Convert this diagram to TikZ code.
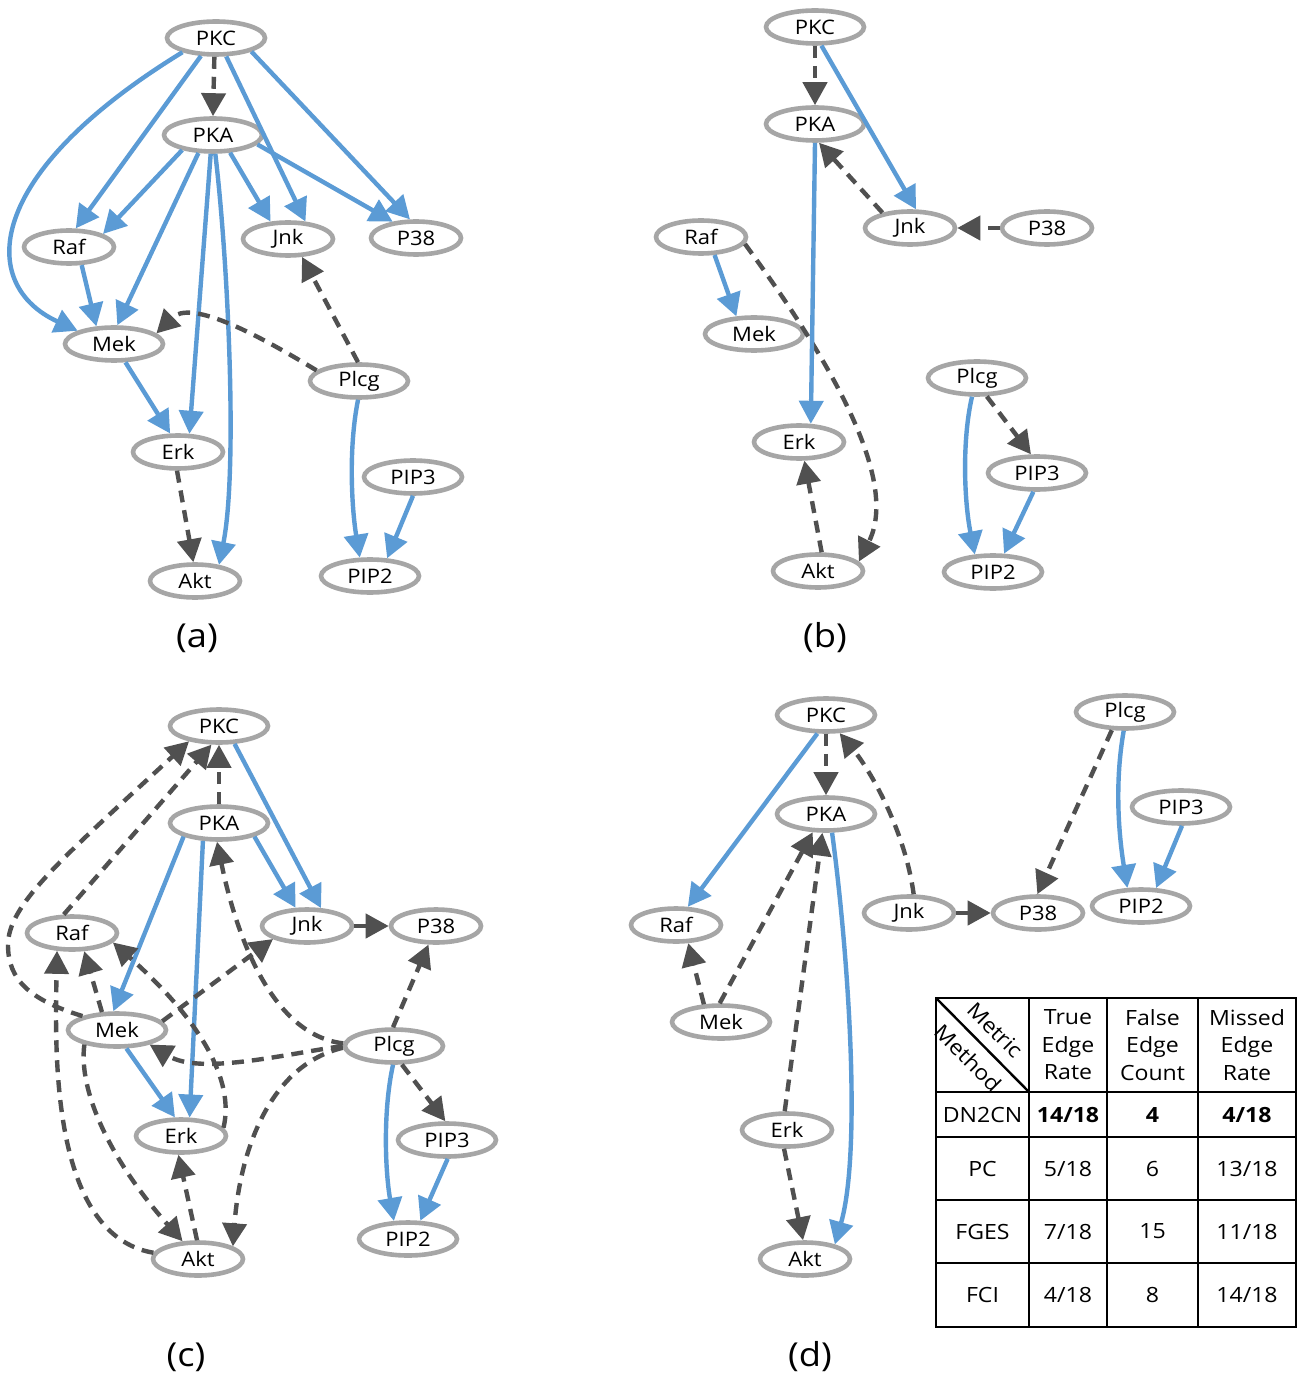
\documentclass[tikz,border=0pt]{standalone}
\usepackage{fontspec}
\setmainfont{Open Sans}[FakeStretch=1.1]
\usetikzlibrary{shapes.geometric,arrows.meta}
\definecolor{eblue}{HTML}{5B9BD5}
\definecolor{edark}{HTML}{505050}
\definecolor{ndgray}{HTML}{A6A6A6}
\tikzset{
  nd/.style={ellipse, draw=ndgray, line width=2.3pt, fill=white, inner sep=0pt,
    minimum width=49pt, minimum height=16.5pt, font=\fontsize{10}{12}\selectfont},
  ndn/.style={nd, minimum width=45pt},
  tip/.style={-{Triangle[length=11.5pt,width=12pt]}},
  blu/.style={draw=eblue, line width=2.2pt, tip},
  dsh/.style={draw=edark, line width=2.2pt, dash pattern=on 6pt off 4pt, tip},
  plab/.style={font=\fontsize{16.5}{19}\selectfont},
  cell/.style={font=\fontsize{10.5}{13.75}\selectfont, align=center, inner sep=0pt},
  grid/.style={draw=black, line width=1.2pt}
}
\begin{document}
\begin{tikzpicture}[x=0.5pt, y=-0.5pt]
\useasboundingbox (0,0) rectangle (1300,1379);

% ---------------- (a) ----------------
\node[nd]  (aPKC)  at (216,38)  {PKC};
\node[nd]  (aPKA)  at (213,135) {PKA};
\node[ndn] (aRaf)  at (69,247)  {Raf};
\node[ndn] (aJnk)  at (288,239) {Jnk};
\node[ndn] (aP38)  at (416,238) {P38};
\node[nd]  (aMek)  at (114,344) {Mek};
\node[nd]  (aPlcg) at (359,381) {Plcg};
\node[ndn] (aErk)  at (178,452) {Erk};
\node[nd]  (aPIP3) at (413,477) {PIP3};
\node[ndn] (aAkt)  at (195,581) {Akt};
\node[nd]  (aPIP2) at (370,576) {PIP2};
\node[plab] (laba) at (197,638) {(a)};

\draw[dsh] (aPKC.-95) -- (aPKA.90);
\draw[blu] (aPKC.-130) -- (aRaf.70);
\draw[blu] (aPKC.-157) .. controls (-18,175) and (-22,285) .. (aMek.160);
\draw[blu] (aPKC.-61) -- (aJnk.45);
\draw[blu] (aPKC.-21) -- (aP38.108);
\draw[blu] (aPKA.-154) -- (aRaf.21);
\draw[blu] (aPKA.-129) -- (aMek.80);
\draw[blu] (aPKA.-97) -- (aErk.58);
\draw[blu] (aPKA.-83) .. controls (228,260) and (238,470) .. (aAkt.34);
\draw[blu] (aPKA.-46) -- (aJnk.135);
\draw[blu] (aPKA.-12) -- (aP38.145);
\draw[blu] (aRaf.-55) -- (aMek.135);
\draw[blu] (aMek.-58) -- (aErk.113);
\draw[dsh] (aPlcg.166) .. controls (250,330) and (190,300) .. (aMek.14);
\draw[dsh] (aPlcg.93) -- (aJnk.-52);
\draw[dsh] (aErk.-93) -- (aAkt.95);
\draw[blu] (aPlcg.-93) .. controls (348,450) and (352,510) .. (aPIP2.119);
\draw[blu] (aPIP3.-90) -- (aPIP2.46);

% ---------------- (b) ----------------
\node[nd]  (bPKC)  at (815,27)  {PKC};
\node[nd]  (bPKA)  at (815,124) {PKA};
\node[ndn] (bJnk)  at (910,228) {Jnk};
\node[ndn] (bP38)  at (1047,228) {P38};
\node[ndn] (bRaf)  at (701,237) {Raf};
\node[nd]  (bMek)  at (754,334) {Mek};
\node[ndn] (bErk)  at (799,442) {Erk};
\node[nd]  (bPlcg) at (977,378) {Plcg};
\node[nd]  (bPIP3) at (1037,473) {PIP3};
\node[ndn] (bAkt)  at (818,571) {Akt};
\node[nd]  (bPIP2) at (993,572) {PIP2};
\node[plab] (labb) at (825,638) {(b)};

\draw[dsh] (bPKC.-90) -- (bPKA.90);
\draw[blu] (bPKC.-71) -- (bJnk.72);
\draw[dsh] (bJnk.151) -- (bPKA.-78);
\draw[dsh] (bP38.180) -- (bJnk.0);
\draw[blu] (bRaf.-53) -- (bMek.135);
\draw[dsh] (bRaf.-9) .. controls (830,360) and (900,480) .. (bAkt.13);
\draw[blu] (bPKA.-90) -- (bErk.57);
\draw[dsh] (bAkt.79) -- (bErk.-74);
\draw[blu] (bPlcg.-105) .. controls (962,440) and (964,500) .. (bPIP2.136);
\draw[dsh] (bPlcg.-62) -- (bPIP3.108);
\draw[blu] (bPIP3.-101) -- (bPIP2.59);

% ---------------- (c) ----------------
\node[nd]  (cPKC)  at (219,726)  {PKC};
\node[nd]  (cPKA)  at (219,823)  {PKA};
\node[ndn] (cRaf)  at (72,933)   {Raf};
\node[ndn] (cJnk)  at (307,926)  {Jnk};
\node[ndn] (cP38)  at (436,926)  {P38};
\node[nd]  (cMek)  at (117,1030) {Mek};
\node[nd]  (cPlcg) at (394,1046) {Plcg};
\node[ndn] (cErk)  at (181,1136) {Erk};
\node[nd]  (cPIP3) at (447,1140) {PIP3};
\node[ndn] (cAkt)  at (198,1259) {Akt};
\node[nd]  (cPIP2) at (408,1239) {PIP2};
\node[plab] (labc) at (186,1357) {(c)};

\draw[dsh] (cPKA.90) -- (cPKC.-90);
\draw[blu] (cPKC.-49) -- (cJnk.52);
\draw[blu] (cPKA.-21) -- (cJnk.122);
\draw[blu] (cPKA.-159) -- (cMek.101);
\draw[blu] (cPKA.-132) -- (cErk.65);
\draw[dsh] (cJnk.0) -- (cP38.180);
\draw[dsh] (cRaf.114) -- (cPKC.-112);
\draw[dsh] (cMek.158) .. controls (30,1000) and (8,980) .. (8,945)
                      .. controls (8,905) and (60,860) .. (cPKC.-153);
\draw[dsh] (cMek.130) -- (cRaf.-56);
\draw[dsh] (cAkt.172) .. controls (50,1235) and (55,1050) .. (cRaf.-130);
\draw[dsh] (cErk.11) .. controls (235,1080) and (200,1020) .. (cRaf.-13);
\draw[dsh] (cMek.11) -- (cJnk.-159);
\draw[dsh] (cPlcg.177) .. controls (270,1035) and (235,930) .. (cPKA.-96);
\draw[dsh] (cPlcg.180) .. controls (280,1055) and (200,1075) .. (cMek.-24);
\draw[dsh] (cPlcg.-178) .. controls (270,1065) and (240,1150) .. (cAkt.20);
\draw[dsh] (cPlcg.93) -- (cP38.-112);
\draw[dsh] (cPlcg.-67) -- (cPIP3.95);
\draw[blu] (cPlcg.-93) .. controls (383,1110) and (385,1170) .. (cPIP2.128);
\draw[blu] (cPIP3.-88) -- (cPIP2.56);
\draw[blu] (cMek.-63) -- (cErk.108);
\draw[dsh] (cMek.-156) .. controls (78,1090) and (110,1160) .. (cAkt.131);
\draw[dsh] (cAkt.93) -- (cErk.-98);

% ---------------- (d) ----------------
\node[nd]  (dPKC)  at (826,715)  {PKC};
\node[nd]  (dPKA)  at (826,814)  {PKA};
\node[nd]  (dPlcg) at (1125,712) {Plcg};
\node[nd]  (dPIP3) at (1181,807) {PIP3};
\node[ndn] (dRaf)  at (676,925)  {Raf};
\node[ndn] (dJnk)  at (909,913)  {Jnk};
\node[ndn] (dP38)  at (1038,913) {P38};
\node[nd]  (dPIP2) at (1141,906) {PIP2};
\node[nd]  (dMek)  at (721,1022) {Mek};
\node[ndn] (dErk)  at (787,1130) {Erk};
\node[ndn] (dAkt)  at (805,1259) {Akt};
\node[plab] (labd) at (810,1357) {(d)};

\draw[dsh] (dPKC.-90) -- (dPKA.90);
\draw[blu] (dPKC.-115) -- (dRaf.57);
\draw[dsh] (dJnk.76) .. controls (905,830) and (870,770) .. (dPKC.-53);
\draw[blu] (dPKA.-72) .. controls (848,950) and (862,1150) .. (dAkt.26);
\draw[dsh] (dMek.134) -- (dRaf.-56);
\draw[dsh] (dMek.94) -- (dPKA.-126);
\draw[dsh] (dErk.97) -- (dPKA.-101);
\draw[dsh] (dErk.-99) -- (dAkt.96);
\draw[dsh] (dJnk.0) -- (dP38.180);
\draw[dsh] (dPlcg.-126) -- (dP38.92);
\draw[blu] (dPlcg.-94) .. controls (1115,780) and (1118,830) .. (dPIP2.127);
\draw[blu] (dPIP3.-87) -- (dPIP2.50);

% ---------------- results table ----------------
\draw[grid] (936,998) rectangle (1296,1327);
\foreach \xx in {1029,1107,1198} \draw[grid] (\xx,998) -- (\xx,1327);
\foreach \yy in {1092,1137,1200,1263} \draw[grid] (936,\yy) -- (1296,\yy);
\draw[grid] (936,998) -- (1029,1092);
\node[cell, rotate=-45] (hMetric) at (995,1030) {Metric};
\node[cell, rotate=-45] (hMethod) at (968,1058) {Method};
\node[cell] (hTrue)   at (1068,1045) {True\\Edge\\Rate};
\node[cell] (hFalse)  at (1152.5,1045) {False\\Edge\\Count};
\node[cell] (hMissed) at (1247,1045) {Missed\\Edge\\Rate};

\node[cell] (mDN)   at (982.5,1114.5) {DN2CN};
\node[cell] (vDN1)  at (1068,1114.5)  {\bfseries 14/18};
\node[cell] (vDN2)  at (1152.5,1114.5){\bfseries 4};
\node[cell] (vDN3)  at (1247,1114.5)  {\bfseries 4/18};

\node[cell] (mPC)   at (982.5,1168.5) {PC};
\node[cell] (vPC1)  at (1068,1168.5)  {5/18};
\node[cell] (vPC2)  at (1152.5,1168.5){6};
\node[cell] (vPC3)  at (1247,1168.5)  {13/18};

\node[cell] (mFG)   at (982.5,1231.5) {FGES};
\node[cell] (vFG1)  at (1068,1231.5)  {7/18};
\node[cell] (vFG2)  at (1152.5,1231.5){15};
\node[cell] (vFG3)  at (1247,1231.5)  {11/18};

\node[cell] (mFCI)  at (982.5,1295)   {FCI};
\node[cell] (vFCI1) at (1068,1295)    {4/18};
\node[cell] (vFCI2) at (1152.5,1295)  {8};
\node[cell] (vFCI3) at (1247,1295)    {14/18};
\end{tikzpicture}
\end{document}
